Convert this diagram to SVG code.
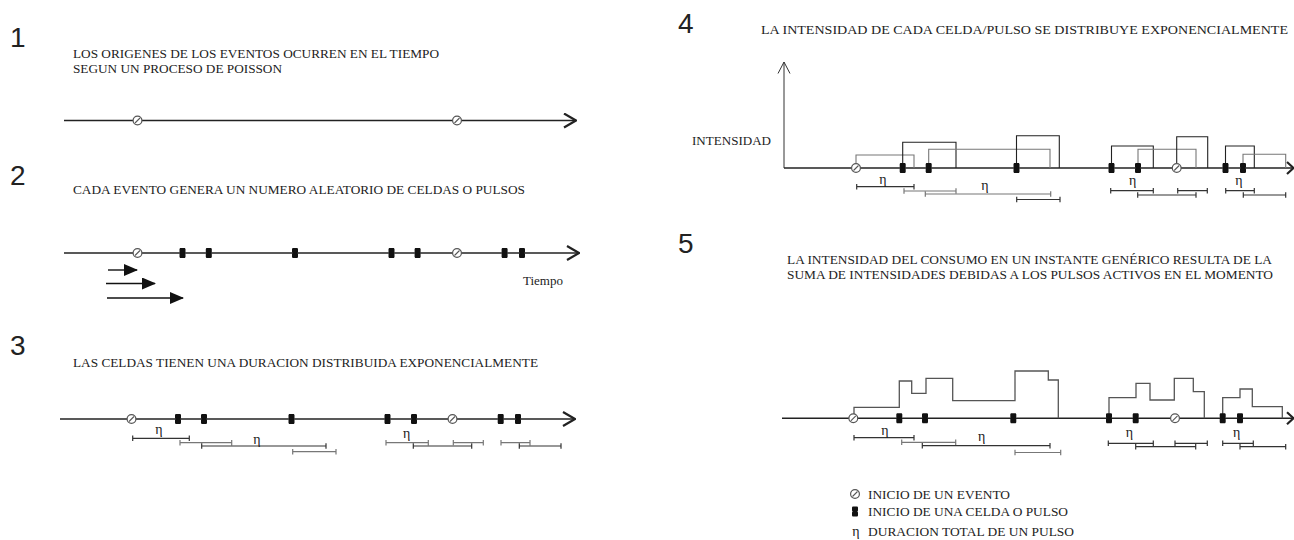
<svg xmlns="http://www.w3.org/2000/svg" width="1294" height="540" viewBox="0 0 1294 540">
<style>
.num{font-family:"Liberation Sans",Arial,sans-serif;font-size:28px;fill:#222}
.t{font-family:"Liberation Serif","Times New Roman",serif;font-size:13px;fill:#222}
.eta{font-family:"Liberation Serif","Times New Roman",serif;font-size:14px;fill:#222;text-anchor:middle}
.ax{stroke:#222;stroke-width:1.4;fill:none}
.chev{stroke:#222;stroke-width:2.2;fill:none}
.thin{stroke:#333;stroke-width:1;fill:none}
.bar{stroke:#333;stroke-width:1.2;fill:none}
.barg{stroke:#777;stroke-width:1.2;fill:none}
.pk{stroke:#222;stroke-width:1.1;fill:none}
.pg{stroke:#777;stroke-width:1.1;fill:none}
.prof{stroke:#555;stroke-width:1.3;fill:none}
</style>
<defs>
<g id="ev"><circle r="4.4" fill="#fff" stroke="#555" stroke-width="1.2"/><line x1="-2.5" y1="2.5" x2="2.5" y2="-2.5" stroke="#555" stroke-width="1.1"/></g>
<path id="cell" d="M-2.4 -5H2.4L3 -4V-1L2.4 0L3 1V4L2.4 5H-2.4L-3 4V1L-2.4 0L-3 -1V-4Z" fill="#111"/>
<marker id="tri" viewBox="0 0 14 12" refX="13" refY="6" markerWidth="14" markerHeight="12" markerUnits="userSpaceOnUse" orient="auto"><path d="M0,0 L14,6 L0,12 z" fill="#111"/></marker>
<marker id="chev" viewBox="0 0 14 16" refX="13" refY="8" markerWidth="14" markerHeight="16" markerUnits="userSpaceOnUse" orient="auto"><path d="M1,1 L13,8 L1,15" fill="none" stroke="#222" stroke-width="2.2"/></marker>
</defs>

<!-- Panel 1 -->
<g id="panel1">
<text class="num" x="10" y="47">1</text>
<text class="t" x="73" y="58" textLength="366" lengthAdjust="spacingAndGlyphs">LOS ORIGENES DE LOS EVENTOS OCURREN EN EL TIEMPO</text>
<text class="t" x="73" y="73" textLength="209" lengthAdjust="spacingAndGlyphs">SEGUN UN PROCESO DE POISSON</text>
<line class="ax" x1="64" y1="120.5" x2="576" y2="120.5" marker-end="url(#chev)"/>
<use href="#ev" x="137.5" y="120.5"/>
<use href="#ev" x="457" y="120.5"/>
</g>

<!-- Panel 2 -->
<g id="panel2">
<text class="num" x="10" y="185">2</text>
<text class="t" x="73" y="194" textLength="452" lengthAdjust="spacingAndGlyphs">CADA EVENTO GENERA UN NUMERO ALEATORIO DE CELDAS O PULSOS</text>
<line class="ax" x1="64" y1="253" x2="579" y2="253" marker-end="url(#chev)"/>
<use href="#cell" x="182.5" y="253"/>
<use href="#cell" x="208.8" y="253"/>
<use href="#cell" x="295" y="253"/>
<use href="#cell" x="391.5" y="253"/>
<use href="#cell" x="417.6" y="253"/>
<use href="#cell" x="504.6" y="253"/>
<use href="#cell" x="522" y="253"/>
<use href="#ev" x="137.5" y="253"/>
<use href="#ev" x="457" y="253"/>
<text class="t" x="523" y="285" textLength="40" lengthAdjust="spacingAndGlyphs">Tiempo</text>
<g id="p2arrows">
<line x1="108" y1="270" x2="137" y2="270" stroke="#111" stroke-width="1.4" marker-end="url(#tri)"/>
<line x1="106" y1="283.5" x2="155" y2="283.5" stroke="#111" stroke-width="1.4" marker-end="url(#tri)"/>
<line x1="107" y1="298" x2="183" y2="298" stroke="#111" stroke-width="1.4" marker-end="url(#tri)"/>
</g>
</g>

<!-- Panel 3 -->
<g id="panel3">
<text class="num" x="10" y="355">3</text>
<text class="t" x="73" y="367" textLength="465" lengthAdjust="spacingAndGlyphs">LAS CELDAS TIENEN UNA DURACION DISTRIBUIDA EXPONENCIALMENTE</text>
<line class="ax" x1="60" y1="419" x2="575" y2="419" marker-end="url(#chev)"/>
<use href="#cell" x="178" y="419"/>
<use href="#cell" x="204" y="419"/>
<use href="#cell" x="291.5" y="419"/>
<use href="#cell" x="387.5" y="419"/>
<use href="#cell" x="414" y="419"/>
<use href="#cell" x="500.7" y="419"/>
<use href="#cell" x="518" y="419"/>
<use href="#ev" x="131.5" y="419"/>
<use href="#ev" x="452.5" y="419"/>
<g id="p3bars">
<path class="bar" d="M132.7 438.3H189.3M132.7 435.5v5.6M189.3 435.5v5.6"/>
<path class="barg" d="M180 442.7H231.7M180 439.9v5.6M231.7 439.9v5.6"/>
<path class="bar" d="M201.7 446H326M201.7 443.2v5.6M326 443.2v5.6"/>
<path class="barg" d="M292.7 451.7H336M292.7 448.9v5.6M336 448.9v5.6"/>
<path class="barg" d="M386 442.7H428.3M386 439.9v5.6M428.3 439.9v5.6"/>
<path class="bar" d="M413.3 446H471.7M413.3 443.2v5.6M471.7 443.2v5.6"/>
<path class="barg" d="M453.3 442.7H483.3M453.3 439.9v5.6M483.3 439.9v5.6"/>
<path class="barg" d="M501 442.7H530M501 439.9v5.6M530 439.9v5.6"/>
<path class="bar" d="M519.3 446H561M519.3 443.2v5.6M561 443.2v5.6"/>
</g>
<text class="eta" x="159" y="434">η</text>
<text class="eta" x="257" y="444">η</text>
<text class="eta" x="406.7" y="438">η</text>
</g>

<!-- Panel 4 -->
<g id="panel4">
<text class="num" x="678" y="33">4</text>
<text class="t" x="761" y="34" textLength="527" lengthAdjust="spacingAndGlyphs">LA INTENSIDAD DE CADA CELDA/PULSO SE DISTRIBUYE EXPONENCIALMENTE</text>
<text class="t" x="692" y="145" textLength="79" lengthAdjust="spacingAndGlyphs">INTENSIDAD</text>
<line class="thin" x1="784" y1="168" x2="784" y2="62"/>
<path class="thin" d="M778 73.5L784 62L790 73.5"/>
<line class="ax" x1="784" y1="168" x2="1294" y2="168"/>
<path class="chev" d="M1287 162L1293.5 168L1287 174"/>
<g id="p4pulses">
<path class="pg" d="M856 168V155H914V168"/>
<path class="pk" d="M902.7 168V142.3H956V168"/>
<path class="pg" d="M928.7 168V149.3H1050V168"/>
<path class="pk" d="M1016.5 168V135.7H1059.3V168"/>
<path class="pk" d="M1111.5 168V146H1153.3V168"/>
<path class="pg" d="M1138 168V149.3H1196V168"/>
<path class="pk" d="M1176.7 168V136.7H1207.7V168"/>
<path class="pk" d="M1225.5 168V146H1254.3V168"/>
<path class="pg" d="M1243 168V154.3H1285.7V168"/>
</g>
<use href="#cell" x="902.7" y="168"/>
<use href="#cell" x="928.7" y="168"/>
<use href="#cell" x="1016.5" y="168"/>
<use href="#cell" x="1111.5" y="168"/>
<use href="#cell" x="1138" y="168"/>
<use href="#cell" x="1225.5" y="168"/>
<use href="#cell" x="1243" y="168"/>
<use href="#ev" x="856" y="168"/>
<use href="#ev" x="1176.7" y="168"/>
<g id="p4bars">
<path class="bar" d="M856.7 186.7H914M856.7 183.9v5.6M914 183.9v5.6"/>
<path class="barg" d="M904 191H956M904 188.2v5.6M956 188.2v5.6"/>
<path class="barg" d="M925.3 194H1050.7M925.3 191.2v5.6M1050.7 191.2v5.6"/>
<path class="bar" d="M1016.7 199.5H1060M1016.7 196.7v5.6M1060 196.7v5.6"/>
<path class="bar" d="M1110.7 190.7H1153.3M1110.7 187.9v5.6M1153.3 187.9v5.6"/>
<path class="bar" d="M1137.7 195H1196M1137.7 192.2v5.6M1196 192.2v5.6"/>
<path class="bar" d="M1177.7 190.7H1207.3M1177.7 187.9v5.6M1207.3 187.9v5.6"/>
<path class="bar" d="M1225.7 190.7H1254.3M1225.7 187.9v5.6M1254.3 187.9v5.6"/>
<path class="bar" d="M1243.3 195H1285.7M1243.3 192.2v5.6M1285.7 192.2v5.6"/>
</g>
<text class="eta" x="883" y="184">η</text>
<text class="eta" x="985" y="190">η</text>
<text class="eta" x="1132.7" y="185">η</text>
<text class="eta" x="1239" y="185">η</text>
</g>

<!-- Panel 5 -->
<g id="panel5">
<text class="num" x="678" y="253">5</text>
<text class="t" x="787" y="264" textLength="485" lengthAdjust="spacingAndGlyphs">LA INTENSIDAD DEL CONSUMO EN UN INSTANTE GENÉRICO RESULTA DE LA</text>
<text class="t" x="787" y="279" textLength="486" lengthAdjust="spacingAndGlyphs">SUMA DE INTENSIDADES DEBIDAS A LOS PULSOS ACTIVOS EN EL MOMENTO</text>
<line class="ax" x1="782" y1="418.3" x2="1294" y2="418.3"/>
<path class="chev" d="M1287 412.3L1293.5 418.3L1287 424.3"/>
<g id="p5profile">
<path class="prof" d="M854 418.3V407.3H899.3V381H911.7V393.3H926V378.3H952.7V400.7H1015V371H1048.3V380H1058.3V418.3"/>
<path class="prof" d="M1109 418.3V397.7H1136V383.3H1150V400H1174.3V378.3H1193.3V391.7H1204.3V418.3"/>
<path class="prof" d="M1222.7 418.3V397.7H1240V389H1252.3V406.7H1282.3V418.3"/>
</g>
<use href="#cell" x="899.3" y="418.3"/>
<use href="#cell" x="925" y="418.3"/>
<use href="#cell" x="1013.3" y="418.3"/>
<use href="#cell" x="1109" y="418.3"/>
<use href="#cell" x="1135.7" y="418.3"/>
<use href="#cell" x="1222.7" y="418.3"/>
<use href="#cell" x="1240" y="418.3"/>
<use href="#ev" x="853.3" y="418.3"/>
<use href="#ev" x="1175" y="418.3"/>
<g id="p5bars">
<path class="bar" d="M854 437.7H914M854 434.9v5.6M914 434.9v5.6"/>
<path class="barg" d="M901.7 442.3H955.7M901.7 439.5v5.6M955.7 439.5v5.6"/>
<path class="bar" d="M922.3 445.7H1050M922.3 442.9v5.6M1050 442.9v5.6"/>
<path class="barg" d="M1015 452.5H1060.7M1015 449.7v5.6M1060.7 449.7v5.6"/>
<path class="bar" d="M1108.3 443.3H1153.3M1108.3 440.5v5.6M1153.3 440.5v5.6"/>
<path class="bar" d="M1135.7 446.7H1195.7M1135.7 443.9v5.6M1195.7 443.9v5.6"/>
<path class="bar" d="M1175 443.3H1207.3M1175 440.5v5.6M1207.3 440.5v5.6"/>
<path class="bar" d="M1222.7 443.3H1253.3M1222.7 440.5v5.6M1253.3 440.5v5.6"/>
<path class="bar" d="M1240 446.7H1285.7M1240 443.9v5.6M1285.7 443.9v5.6"/>
</g>
<text class="eta" x="885" y="435">η</text>
<text class="eta" x="981.7" y="441">η</text>
<text class="eta" x="1129.3" y="437">η</text>
<text class="eta" x="1236.7" y="437">η</text>
</g>

<!-- Legend -->
<g id="legend">
<use href="#ev" x="855" y="494"/>
<text class="t" x="868" y="498.5" textLength="142" lengthAdjust="spacingAndGlyphs">INICIO DE UN EVENTO</text>
<use href="#cell" x="855" y="511.5"/>
<text class="t" x="868" y="516" textLength="200" lengthAdjust="spacingAndGlyphs">INICIO DE UNA CELDA O PULSO</text>
<text class="eta" x="856" y="535.5">η</text>
<text class="t" x="868" y="535.5" textLength="206" lengthAdjust="spacingAndGlyphs">DURACION TOTAL DE UN PULSO</text>
</g>
</svg>
